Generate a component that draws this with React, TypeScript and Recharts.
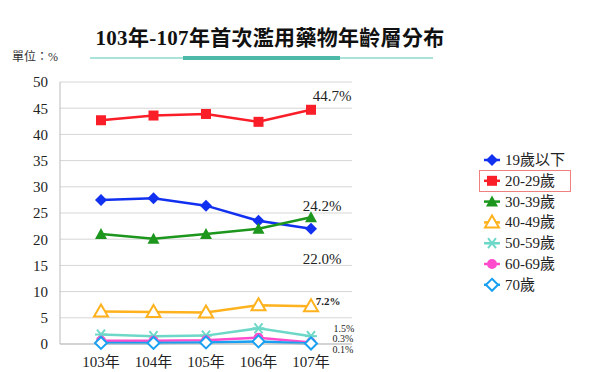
import { LineChart, Line, XAxis, YAxis, CartesianGrid, Legend } from 'recharts';

const years = ['103年', '104年', '105年', '106年', '107年'];
const under19 = [27.5, 27.8, 26.4, 23.5, 22.0];
const age20to29 = [42.7, 43.6, 43.9, 42.4, 44.7];
const age30to39 = [21.0, 20.1, 21.0, 22.0, 24.2];
const age40to49 = [6.2, 6.1, 6.0, 7.4, 7.2];
const age50to59 = [1.8, 1.5, 1.6, 3.0, 1.5];
const age60to69 = [0.6, 0.6, 0.7, 1.2, 0.3];
const over70 = [0.2, 0.2, 0.3, 0.5, 0.1];
const yTicks = [0, 5, 10, 15, 20, 25, 30, 35, 40, 45, 50];

const data = years.map((y, i) => ({
  year: y,
  a: under19[i],
  b: age20to29[i],
  c: age30to39[i],
  d: age40to49[i],
  e: age50to59[i],
  f: age60to69[i],
  g: over70[i],
}));

const serif = "'Liberation Serif', 'Noto Sans CJK TC', serif";

type Marker = 'diamond' | 'square' | 'triangle' | 'openTriangle' | 'star' | 'circle' | 'openDiamond';

function drawMarker(kind: Marker, cx: number, cy: number, color: string, key?: string | number) {
  switch (kind) {
    case 'diamond':
      return <path key={key} d={`M${cx},${cy - 6}L${cx + 6},${cy}L${cx},${cy + 6}L${cx - 6},${cy}Z`} fill={color} />;
    case 'openDiamond':
      return <path key={key} d={`M${cx},${cy - 6}L${cx + 6},${cy}L${cx},${cy + 6}L${cx - 6},${cy}Z`} fill="#fff" stroke={color} strokeWidth={2} />;
    case 'square':
      return <rect key={key} x={cx - 5} y={cy - 5} width={10} height={10} fill={color} />;
    case 'triangle':
      return <path key={key} d={`M${cx},${cy - 6}L${cx + 6},${cy + 5}L${cx - 6},${cy + 5}Z`} fill={color} />;
    case 'openTriangle':
      return <path key={key} d={`M${cx},${cy - 7}L${cx + 7},${cy + 5}L${cx - 7},${cy + 5}Z`} fill="#fff" stroke={color} strokeWidth={2} />;
    case 'star':
      return (
        <g key={key} stroke={color} strokeWidth={2}>
          <line x1={cx - 6} y1={cy} x2={cx + 6} y2={cy} />
          <line x1={cx - 4} y1={cy - 5} x2={cx + 4} y2={cy + 5} />
          <line x1={cx + 4} y1={cy - 5} x2={cx - 4} y2={cy + 5} />
        </g>
      );
    case 'circle':
      return <circle key={key} cx={cx} cy={cy} r={5} fill={color} />;
  }
}

const dot = (kind: Marker, color: string) => (p: any) => drawMarker(kind, p.cx, p.cy, color, p.index);

const endLabel = (dx: number, dy: number, size: number, bold = false) => (p: any) => {
  if (p.index !== 4) return null;
  return (
    <text
      key="lbl"
      x={p.x + dx}
      y={p.y + dy}
      textAnchor="middle"
      dominantBaseline="central"
      fontFamily={serif}
      fontSize={size}
      fontWeight={bold ? 'bold' : 'normal'}
      fill="#222"
    >
      {p.value.toFixed(1)}%
    </text>
  );
};

const series: { key: string; name: string; color: string; marker: Marker }[] = [
  { key: 'a', name: '19歲以下', color: '#1230f0', marker: 'diamond' },
  { key: 'b', name: '20-29歲', color: '#fa1e28', marker: 'square' },
  { key: 'c', name: '30-39歲', color: '#1c961c', marker: 'triangle' },
  { key: 'd', name: '40-49歲', color: '#ffb21e', marker: 'openTriangle' },
  { key: 'e', name: '50-59歲', color: '#6ed8c8', marker: 'star' },
  { key: 'f', name: '60-69歲', color: '#ff4ccc', marker: 'circle' },
  { key: 'g', name: '70歲', color: '#1aa0f0', marker: 'openDiamond' },
];

const labels: Record<string, (p: any) => any> = {
  a: endLabel(11, 30, 15),
  b: endLabel(21, -14, 15),
  c: endLabel(11, -11, 15),
  d: endLabel(17, -5, 11, true),
  e: endLabel(33, -8, 10),
  f: endLabel(32, -4, 10),
  g: endLabel(32, 6, 10),
};

function LegendBox() {
  return (
    <svg width={120} height={160}>
      {series.map((s, i) => {
        const y = 10 + i * 20.8;
        return (
          <g key={s.key}>
            <line x1={6} y1={y} x2={22} y2={y} stroke={s.color} strokeWidth={2.5} />
            {drawMarker(s.marker, 14, y, s.color)}
            <text x={27} y={y} dominantBaseline="central" fontFamily={serif} fontSize={15} fill="#222">
              {s.name}
            </text>
          </g>
        );
      })}
      <rect x={1.5} y={20.5} width={91} height={21} fill="none" stroke="#f08080" strokeWidth={1} />
    </svg>
  );
}

export default function App() {
  return (
    <div style={{ position: 'absolute', left: 0, top: 0, width: 600, height: 372, background: '#fff' }}>
      <div
        style={{
          position: 'absolute',
          left: 0,
          width: 540,
          top: 24,
          textAlign: 'center',
          fontFamily: serif,
          fontSize: 21,
          fontWeight: 'bold',
          letterSpacing: 0.3,
          color: '#111',
          lineHeight: '28px',
        }}
      >
        103年-107年首次濫用藥物年齡層分布
      </div>
      <div style={{ position: 'absolute', left: 90, top: 57, width: 343, height: 2, background: '#a9e3da' }} />
      <div style={{ position: 'absolute', left: 183, top: 56, width: 157, height: 4, background: '#4dbaa9' }} />
      <div style={{ position: 'absolute', left: 12, top: 47, fontFamily: serif, fontSize: 12, color: '#333' }}>
        單位：%
      </div>
      <LineChart width={600} height={372} data={data} margin={{ top: 82, right: 128, bottom: 8, left: 0 }}>
        <CartesianGrid vertical={false} stroke="#d6d6d6" />
        <XAxis
          dataKey="year"
          padding={{ left: 41, right: 41 }}
          height={20}
          tickSize={0}
          tickMargin={12}
          axisLine={{ stroke: '#bbb' }}
          tick={{ fontFamily: serif, fontSize: 15, fill: '#222' }}
        />
        <YAxis
          domain={[0, 50]}
          ticks={yTicks}
          width={60}
          tickSize={0}
          tickMargin={12}
          axisLine={{ stroke: '#bbb' }}
          tick={{ fontFamily: serif, fontSize: 15, fill: '#222' }}
        />
        <Legend
          layout="horizontal"
          verticalAlign="middle"
          align="right"
          wrapperStyle={{ left: 478, top: 150, width: 120, right: 'auto' }}
          content={() => <LegendBox />}
        />
        {series.map((s) => (
          <Line
            key={s.key}
            dataKey={s.key}
            name={s.name}
            type="linear"
            stroke={s.color}
            strokeWidth={2.5}
            dot={dot(s.marker, s.color)}
            activeDot={false}
            label={labels[s.key]}
            isAnimationActive={false}
          />
        ))}
      </LineChart>
    </div>
  );
}
